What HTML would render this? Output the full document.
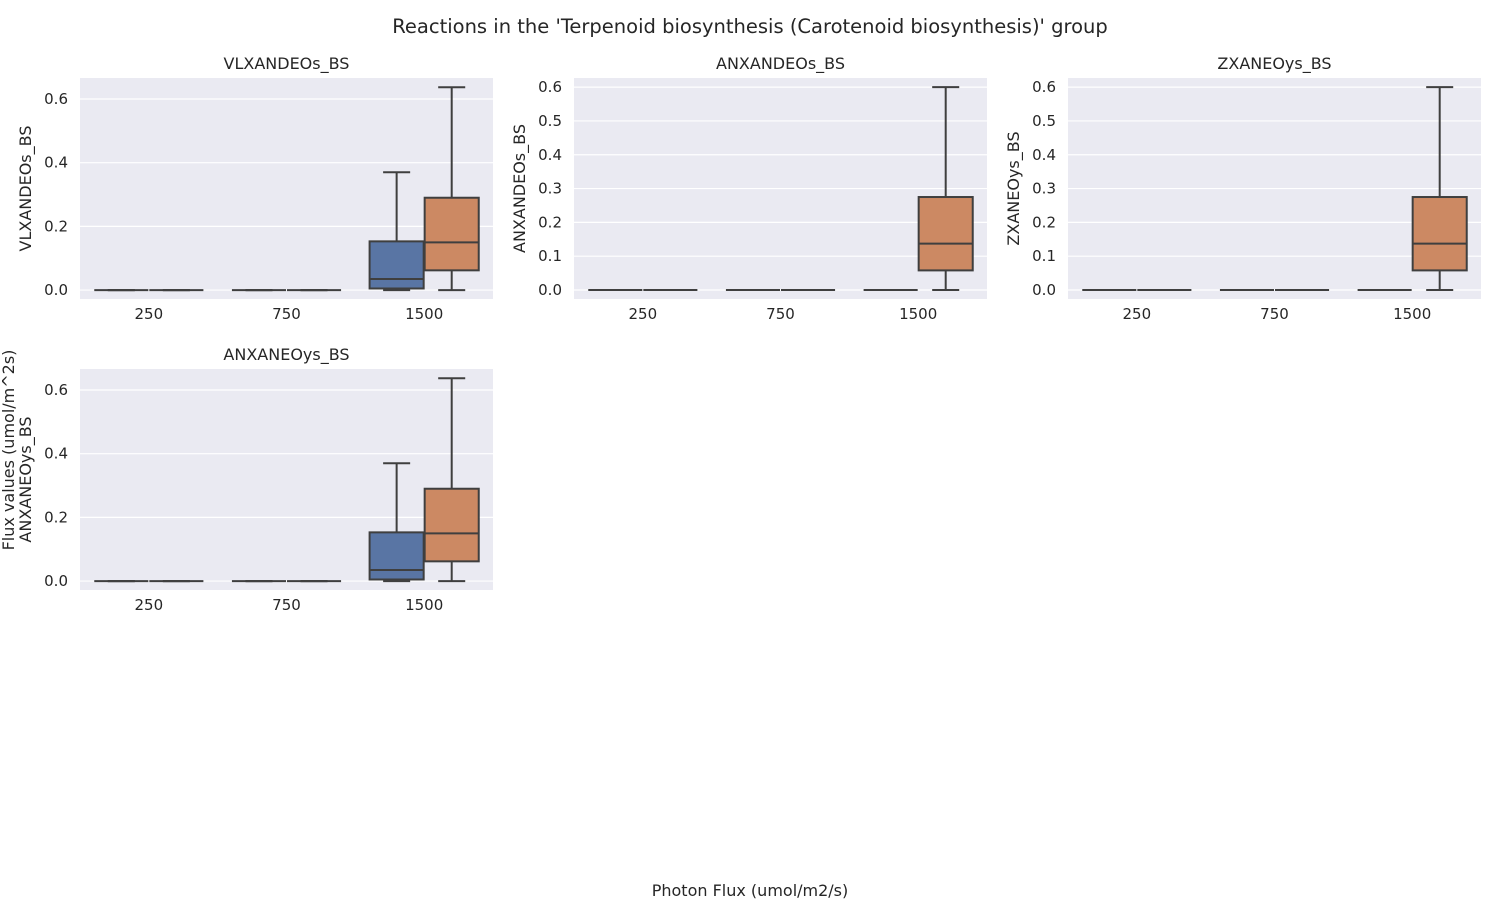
<!DOCTYPE html>
<html><head><meta charset="utf-8"><style>
body{margin:0;background:#fff;}
svg{display:block;font-family:"DejaVu Sans","Liberation Sans",sans-serif;}
</style></head><body>
<svg id="fig" width="1500" height="900">
<text x="750" y="33" text-anchor="middle" font-size="19.5" fill="#262626">Reactions in the 'Terpenoid biosynthesis (Carotenoid biosynthesis)' group</text>
<text x="750" y="896" text-anchor="middle" font-size="16" fill="#262626">Photon Flux (umol/m2/s)</text>
<text transform="translate(14,450) rotate(-90)" text-anchor="middle" font-size="16" fill="#262626">Flux values (umol/m^2s)</text>
</svg>
<script>
const categories = ["250","750","1500"];
const panelTitles = ["VLXANDEOs_BS","ANXANDEOs_BS","ZXANEOys_BS","ANXANEOys_BS"];
// stats per panel: [hue][category] = [min,q1,median,q3,max]
const statsBlue = [
 [[0,0,0,0,0],[0,0,0,0,0],[0,0.005,0.035,0.153,0.37]],
 [[0,0,0,0,0],[0,0,0,0,0],[0,0,0,0,0]],
 [[0,0,0,0,0],[0,0,0,0,0],[0,0,0,0,0]],
 [[0,0,0,0,0],[0,0,0,0,0],[0,0.005,0.035,0.153,0.37]]
];
const statsOrange = [
 [[0,0,0,0,0],[0,0,0,0,0],[0,0.062,0.15,0.29,0.637]],
 [[0,0,0,0,0],[0,0,0,0,0],[0,0.058,0.137,0.275,0.6]],
 [[0,0,0,0,0],[0,0,0,0,0],[0,0.058,0.137,0.275,0.6]],
 [[0,0,0,0,0],[0,0,0,0,0],[0,0.062,0.15,0.29,0.637]]
];
const yTicksA = [0,0.2,0.4,0.6];
const yTicksB = [0,0.1,0.2,0.3,0.4,0.5,0.6];
const panels = [
 {x:80,y:78,ticks:yTicksA,ymin:-0.028,ymax:0.666},
 {x:574,y:78,ticks:yTicksB,ymin:-0.0266,ymax:0.627},
 {x:1068,y:78,ticks:yTicksB,ymin:-0.0266,ymax:0.627},
 {x:80,y:369,ticks:yTicksA,ymin:-0.028,ymax:0.666}
];
const W=413,H=221;
const NS="http://www.w3.org/2000/svg";
const svg=document.getElementById('fig');
function mk(tag,attrs,parent){const e=document.createElementNS(NS,tag);for(const k in attrs)e.setAttribute(k,attrs[k]);(parent||svg).appendChild(e);return e;}
const colors=["#5975a4","#cc8963"];
panels.forEach((p,pi)=>{
 const g=mk('g',{});
 
 
 const ys=v=>p.y+H-(v-p.ymin)/(p.ymax-p.ymin)*H;
 const bw=W/categories.length;
 const xc=i=>p.x+bw*(i+0.5);
 const bg=mk('rect',{x:p.x,y:p.y,width:W,height:H,fill:"#eaeaf2"},g);
 
 
 p.ticks.forEach(t=>{
  const gl=mk('line',{x1:p.x,x2:p.x+W,y1:ys(t),y2:ys(t),stroke:"#fff","stroke-width":1.2},g);
  
  
  const tl=mk('text',{x:p.x-12,y:ys(t)+5,"text-anchor":"end","font-size":15,fill:"#262626"},g);
  tl.textContent=t.toFixed(1);
  
  
 });
 categories.forEach((c,i)=>{
  const tl=mk('text',{x:xc(i),y:p.y+H+20,"text-anchor":"middle","font-size":15,fill:"#262626"},g);
  tl.textContent=c;
  
  
  [statsBlue,statsOrange].forEach((S,h)=>{
   const s=S[pi][i];
   const hw=bw*0.8/2;
   const cx=xc(i)-bw*0.4+hw*(h+0.5);
   const half=hw/2-0.5;
   const lc="#3f3f3f";
   mk('line',{x1:cx,x2:cx,y1:ys(s[0]),y2:ys(s[1]),stroke:lc,"stroke-width":2},g);
   mk('line',{x1:cx,x2:cx,y1:ys(s[3]),y2:ys(s[4]),stroke:lc,"stroke-width":2},g);
   mk('line',{x1:cx-half/2,x2:cx+half/2,y1:ys(s[0]),y2:ys(s[0]),stroke:lc,"stroke-width":2},g);
   mk('line',{x1:cx-half/2,x2:cx+half/2,y1:ys(s[4]),y2:ys(s[4]),stroke:lc,"stroke-width":2},g);
   const b=mk('rect',{x:cx-half,y:ys(s[3]),width:half*2,height:Math.max(0,ys(s[1])-ys(s[3])),fill:colors[h],stroke:lc,"stroke-width":2},g);
   
   
   mk('line',{x1:cx-half,x2:cx+half,y1:ys(s[2]),y2:ys(s[2]),stroke:lc,"stroke-width":2},g);
  });
 });
 const tt=mk('text',{x:p.x+W/2,y:p.y-9,"text-anchor":"middle","font-size":16,fill:"#262626"},g);
 tt.textContent=panelTitles[pi];
 
 
 const yl=mk('text',{transform:`translate(${p.x-49},${p.y+H/2}) rotate(-90)`,"text-anchor":"middle","font-size":16,fill:"#262626"},g);
 yl.textContent=panelTitles[pi];
 
 
});
</script>
</body></html>
